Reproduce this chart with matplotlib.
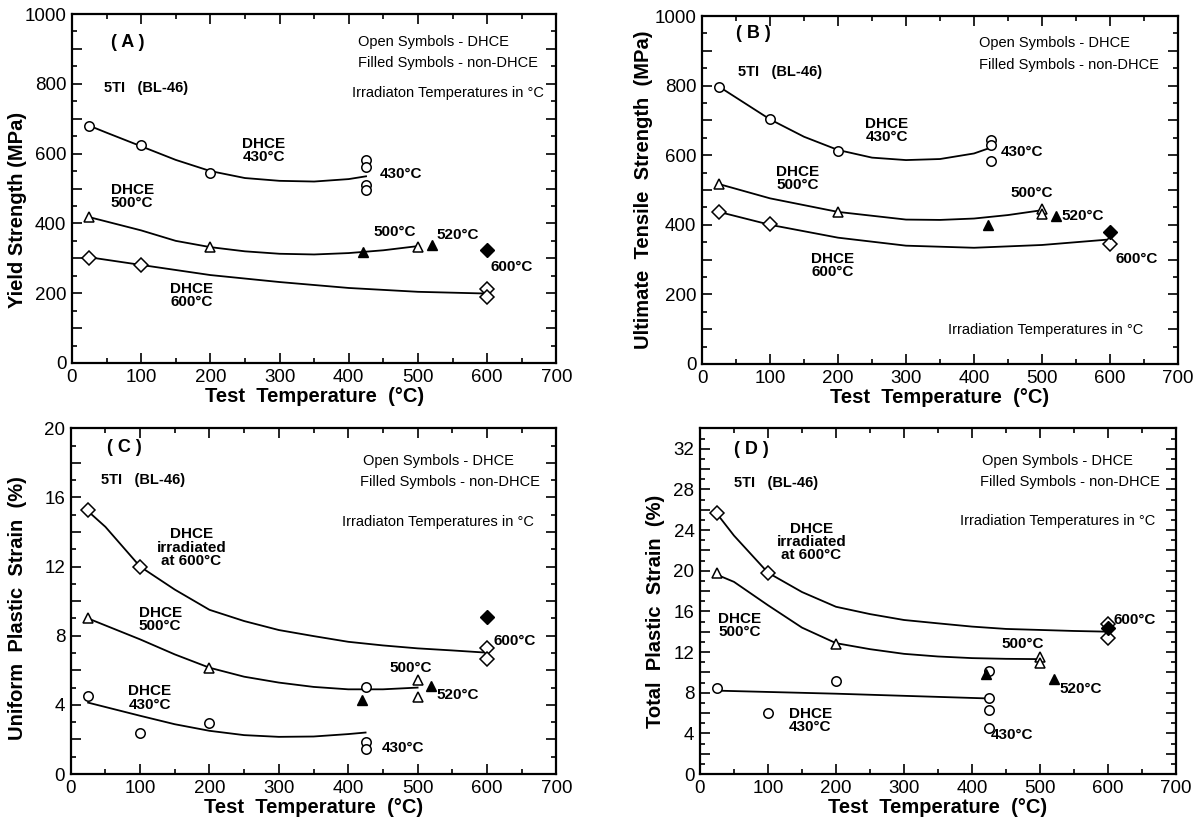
import numpy as np
import matplotlib.pyplot as plt
from matplotlib.ticker import MultipleLocator, FuncFormatter

plt.rcParams['font.family'] = ['Liberation Sans', 'DejaVu Sans']

# ---- (A) yield strength, MPa ----
a_circ_x = [25, 100, 200, 425, 425, 425, 425]
a_circ_y = [679, 625, 545, 582, 563, 510, 496]
a_tri_x = [25, 200, 500]
a_tri_y = [417, 331, 333]
a_tri_fill_x = [420, 520]
a_tri_fill_y = [319, 338]
a_dia_x = [25, 100, 600, 600]
a_dia_y = [302, 280, 213, 189]
a_dia_fill_x = [600]
a_dia_fill_y = [323]
a_fit430_x = [25, 50, 100, 150, 200, 250, 300, 350, 400, 425]
a_fit430_y = [680, 660, 621, 582, 550, 530, 522, 520, 527, 535]
a_fit500_x = [25, 100, 150, 200, 250, 300, 350, 400, 450, 500]
a_fit500_y = [418, 380, 350, 332, 320, 313, 311, 315, 323, 335]
a_fit600_x = [25, 100, 200, 300, 400, 500, 600]
a_fit600_y = [303, 281, 252, 232, 215, 204, 199]

# ---- (B) ultimate tensile strength, MPa ----
b_circ_x = [25, 100, 200, 425, 425, 425]
b_circ_y = [797, 703, 613, 643, 630, 584]
b_tri_x = [25, 200, 500, 500]
b_tri_y = [516, 438, 445, 431]
b_tri_fill_x = [420, 520]
b_tri_fill_y = [399, 426]
b_dia_x = [25, 100, 600]
b_dia_y = [438, 401, 344]
b_dia_fill_x = [600]
b_dia_fill_y = [378]
b_fit430_x = [25, 100, 150, 200, 250, 300, 350, 400, 425]
b_fit430_y = [797, 703, 653, 615, 593, 586, 589, 605, 622]
b_fit500_x = [25, 100, 200, 300, 350, 400, 450, 500]
b_fit500_y = [517, 476, 437, 415, 414, 418, 428, 442]
b_fit600_x = [25, 100, 200, 300, 400, 500, 600]
b_fit600_y = [437, 400, 363, 340, 334, 342, 358]

# ---- (C) uniform plastic strain, % ----
c_circ_x = [25, 100, 200, 425, 425, 425]
c_circ_y = [4.52, 2.4, 2.94, 5.06, 1.88, 1.44]
c_tri_x = [25, 200, 500, 500]
c_tri_y = [9.0, 6.15, 5.44, 4.48]
c_tri_fill_x = [420, 520]
c_tri_fill_y = [4.27, 5.1]
c_dia_x = [25, 100, 600, 600]
c_dia_y = [15.25, 11.96, 7.3, 6.67]
c_dia_fill_x = [600]
c_dia_fill_y = [9.08]
c_fit430_x = [25, 100, 150, 200, 250, 300, 350, 400, 425]
c_fit430_y = [4.13, 3.37, 2.88, 2.5, 2.25, 2.15, 2.17, 2.31, 2.4]
c_fit500_x = [25, 100, 150, 200, 250, 300, 350, 400, 450, 500]
c_fit500_y = [9.0, 7.79, 6.92, 6.15, 5.63, 5.29, 5.04, 4.9, 4.9, 5.0]
c_fit600_x = [25, 50, 100, 150, 200, 250, 300, 350, 400, 450, 500, 550, 600]
c_fit600_y = [15.2, 14.3, 12.0, 10.67, 9.5, 8.85, 8.33, 7.98, 7.65, 7.44, 7.27, 7.15, 7.02]

# ---- (D) total plastic strain, % ----
d_circ_x = [25, 100, 200, 425, 425, 425, 425]
d_circ_y = [8.47, 5.96, 9.19, 10.16, 7.49, 6.29, 4.5]
d_tri_x = [25, 200, 500, 500]
d_tri_y = [19.77, 12.8, 11.5, 10.88]
d_tri_fill_x = [420, 520]
d_tri_fill_y = [9.87, 9.38]
d_dia_x = [25, 100, 600, 600]
d_dia_y = [25.67, 19.77, 14.72, 13.35]
d_dia_fill_x = [600]
d_dia_fill_y = [14.4]
d_fit430_x = [25, 200, 425]
d_fit430_y = [8.2, 7.9, 7.43]
d_fit500_x = [25, 50, 100, 150, 200, 250, 300, 350, 400, 450, 500]
d_fit500_y = [19.6, 18.9, 16.6, 14.4, 12.87, 12.28, 11.82, 11.56, 11.4, 11.33, 11.3]
d_fit600_x = [25, 50, 100, 150, 200, 250, 300, 350, 400, 450, 500, 550, 600]
d_fit600_y = [25.6, 23.45, 19.8, 17.9, 16.45, 15.73, 15.15, 14.82, 14.5, 14.27, 14.17, 14.07, 14.0]

fig = plt.figure(figsize=(11.99, 8.25), dpi=100)
ax_a = fig.add_axes([0.060, 0.560, 0.404, 0.423])
ax_b = fig.add_axes([0.5855, 0.5588, 0.397, 0.4218])
ax_c = fig.add_axes([0.059, 0.0618, 0.405, 0.419])
ax_d = fig.add_axes([0.5838, 0.0618, 0.397, 0.419])

MS = 6.8
LW = 1.3


def draw_set(ax, cx, cy, tx, ty, tfx, tfy, dx, dy, dfx, dfy, fits):
    for fx, fy in fits:
        ax.plot(fx, fy, color='black', lw=LW, zorder=2)
    ax.plot(cx, cy, 'o', ms=MS, mfc='white', mec='black', mew=1.1, ls='none', zorder=3)
    ax.plot(tx, ty, '^', ms=MS, mfc='white', mec='black', mew=1.1, ls='none', zorder=3)
    ax.plot(tfx, tfy, '^', ms=MS, mfc='black', mec='black', ls='none', zorder=3)
    ax.plot(dx, dy, 'D', ms=MS * 1.05, mfc='white', mec='black', mew=1.1, ls='none', zorder=3)
    ax.plot(dfx, dfy, 'D', ms=MS * 1.05, mfc='black', mec='black', ls='none', zorder=3)


def style_axes(ax, ymax, ystep, ylabel_every, yminor, ylabel, label_xy):
    ax.set_xlim(0, 700)
    ax.set_ylim(0, ymax)
    ax.xaxis.set_major_locator(MultipleLocator(100))
    ax.xaxis.set_minor_locator(MultipleLocator(50))
    ax.yaxis.set_major_locator(MultipleLocator(ystep))
    ax.yaxis.set_minor_locator(MultipleLocator(yminor))
    ax.yaxis.set_major_formatter(FuncFormatter(
        lambda v, p: '%g' % v if abs(v / ylabel_every - round(v / ylabel_every)) < 1e-6 else ''))
    ax.tick_params(which='both', direction='in', top=True, right=True, width=1.2,
                   labelsize=13.5, pad=4)
    ax.tick_params(which='major', length=7)
    ax.tick_params(which='minor', length=3.5)
    for s in ax.spines.values():
        s.set_linewidth(1.6)
    ax.set_xlabel('Test  Temperature  (°C)', fontsize=14.5, fontweight='bold', labelpad=1)
    ax.set_ylabel(ylabel, fontsize=14.5, fontweight='bold')
    ax.yaxis.set_label_coords(*label_xy)


def note(ax, x, y, s, ha='center', size=11, weight='bold'):
    ax.text(x, y, s, ha=ha, va='center', fontsize=size, fontweight=weight,
            linespacing=0.92, zorder=4)


def header(ax, tag, tag_xy, ti_xy, open_xy, filled_xy, irr_xy, irr_text):
    note(ax, tag_xy[0], tag_xy[1], tag, size=13)
    note(ax, ti_xy[0], ti_xy[1], '5TI   (BL-46)', ha='left', size=10.5)
    note(ax, open_xy[0], open_xy[1], 'Open Symbols - DHCE', size=10.5, weight='normal')
    note(ax, filled_xy[0], filled_xy[1], 'Filled Symbols - non-DHCE', size=10.5, weight='normal')
    note(ax, irr_xy[0], irr_xy[1], irr_text, size=10.5, weight='normal')


# (A)
draw_set(ax_a, a_circ_x, a_circ_y, a_tri_x, a_tri_y, a_tri_fill_x, a_tri_fill_y,
         a_dia_x, a_dia_y, a_dia_fill_x, a_dia_fill_y,
         [(a_fit430_x, a_fit430_y), (a_fit500_x, a_fit500_y), (a_fit600_x, a_fit600_y)])
style_axes(ax_a, 1000, 100, 200, 50, 'Yield Strength (MPa)', (-0.093, 0.44))
header(ax_a, '( A )', (80, 917), (46, 787), (523, 920), (543, 859), (543, 773),
       'Irradiaton Temperatures in °C')
note(ax_a, 277, 610, 'DHCE\n430°C')
note(ax_a, 476, 543, '430°C')
note(ax_a, 87, 476, 'DHCE\n500°C')
note(ax_a, 467, 376, '500°C')
note(ax_a, 558, 366, '520°C')
note(ax_a, 635, 275, '600°C')
note(ax_a, 173, 194, 'DHCE\n600°C')

# (B)
draw_set(ax_b, b_circ_x, b_circ_y, b_tri_x, b_tri_y, b_tri_fill_x, b_tri_fill_y,
         b_dia_x, b_dia_y, b_dia_fill_x, b_dia_fill_y,
         [(b_fit430_x, b_fit430_y), (b_fit500_x, b_fit500_y), (b_fit600_x, b_fit600_y)])
style_axes(ax_b, 1000, 100, 200, 50, 'Ultimate  Tensile  Strength  (MPa)', (-0.103, 0.5))
header(ax_b, '( B )', (76, 949), (53, 840), (518, 922), (539, 860), (506, 97),
       'Irradiation Temperatures in °C')
note(ax_b, 272, 671, 'DHCE\n430°C')
note(ax_b, 439, 610, '430°C', ha='left')
note(ax_b, 141, 533, 'DHCE\n500°C')
note(ax_b, 485, 490, '500°C')
note(ax_b, 529, 426, '520°C', ha='left')
note(ax_b, 192, 284, 'DHCE\n600°C')
note(ax_b, 608, 303, '600°C', ha='left')

# (C)
draw_set(ax_c, c_circ_x, c_circ_y, c_tri_x, c_tri_y, c_tri_fill_x, c_tri_fill_y,
         c_dia_x, c_dia_y, c_dia_fill_x, c_dia_fill_y,
         [(c_fit430_x, c_fit430_y), (c_fit500_x, c_fit500_y), (c_fit600_x, c_fit600_y)])
style_axes(ax_c, 20, 2, 4, 1, 'Uniform  Plastic  Strain  (%)', (-0.091, 0.48))
header(ax_c, '( C )', (78, 18.9), (44, 17.0), (530, 18.1), (546, 16.9), (530, 14.6),
       'Irradiaton Temperatures in °C')
note(ax_c, 174, 13.1, 'DHCE\nirradiated\nat 600°C')
note(ax_c, 129, 8.94, 'DHCE\n500°C')
note(ax_c, 114, 4.4, 'DHCE\n430°C')
note(ax_c, 609, 7.7, '600°C', ha='left')
note(ax_c, 490, 6.15, '500°C')
note(ax_c, 527, 4.6, '520°C', ha='left')
note(ax_c, 448, 1.53, '430°C', ha='left')

# (D)
draw_set(ax_d, d_circ_x, d_circ_y, d_tri_x, d_tri_y, d_tri_fill_x, d_tri_fill_y,
         d_dia_x, d_dia_y, d_dia_fill_x, d_dia_fill_y,
         [(d_fit430_x, d_fit430_y), (d_fit500_x, d_fit500_y), (d_fit600_x, d_fit600_y)])
style_axes(ax_d, 34, 2, 4, 1, 'Total  Plastic  Strain  (%)', (-0.073, 0.47))
header(ax_d, '( D )', (76, 31.9), (50, 28.6), (526, 30.8), (544, 28.75), (526, 24.9),
       'Irradiation Temperatures in °C')
note(ax_d, 164, 22.8, 'DHCE\nirradiated\nat 600°C')
note(ax_d, 58, 14.6, 'DHCE\n500°C')
note(ax_d, 162, 5.28, 'DHCE\n430°C')
note(ax_d, 608, 15.15, '600°C', ha='left')
note(ax_d, 474, 12.8, '500°C')
note(ax_d, 528, 8.4, '520°C', ha='left')
note(ax_d, 428, 3.8, '430°C', ha='left')

fig.savefig('out.png', dpi=100)
